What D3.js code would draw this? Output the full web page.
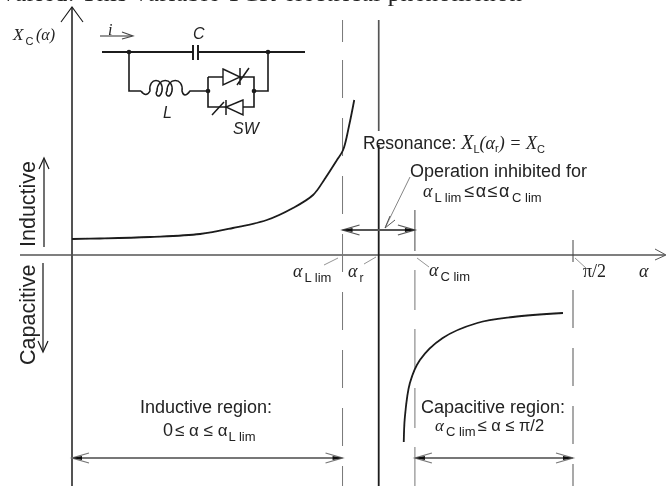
<!DOCTYPE html>
<meta charset="utf-8">
<style>
  body { margin: 0; background: #fff; }
  svg { width: 667px; height: 486px; display: block; }
  text { font-family: "Liberation Sans", sans-serif; fill: #222; }
  .it { font-family: "Liberation Serif", serif; font-style: italic; }
</style>
<body>
<svg></svg>
<script src="https://d3js.org/d3.v7.min.js"></script>
<script>
// alpha in degrees, X_C in arbitrary units, both
const inductiveAlpha = [0, 5, 14, 23, 28.9, 35, 39.7, 43.3, 45.4, 47.6, 48.7, 49.8, 50.7];
const inductiveX = [0.16, 0.165, 0.18, 0.21, 0.27, 0.35, 0.47, 0.6, 0.76, 0.95, 1.05, 1.3, 1.55];
const capacitiveAlpha = [59.6, 59.8, 60.7, 62.5, 66.6, 72.8, 79.2, 88.2];
const capacitiveX = [-1.87, -1.62, -1.28, -1.05, -0.83, -0.68, -0.62, -0.58];
const alphaLlim = 48.6;
const alphaR = 55.1;
const alphaClim = 61.6;
const alphaEnd = 90;

const width = 667, height = 486;
const svg = d3.select("svg").attr("viewBox", [0, 0, width, height]);

const x = d3.scaleLinear().domain([0, alphaEnd]).range([72, 573]);
const y = d3.scaleLinear().domain([2.55, -2.31]).range([0, 486]);

svg.append("defs").append("filter").attr("id", "soft")
  .append("feGaussianBlur").attr("stdDeviation", 0.5);

const g = svg.append("g").attr("filter", "url(#soft)");
const ink = "#1a1a1a";

function seg(x1, y1, x2, y2, w = 1.2, col = ink, dash = null) {
  return g.append("line").attr("x1", x1).attr("y1", y1).attr("x2", x2).attr("y2", y2)
    .attr("stroke", col).attr("stroke-width", w).attr("stroke-dasharray", dash);
}
function poly(d, w = 1.2, col = ink) {
  return g.append("path").attr("d", d).attr("fill", "none").attr("stroke", col).attr("stroke-width", w);
}
function label(tx, ty, str, size = 18) {
  return g.append("text").attr("x", tx).attr("y", ty).attr("font-size", size).text(str);
}
// alpha (or other symbol) with a small subscript
function sym(tx, ty, main, sub, size = 18, subSize = 12) {
  const t = g.append("text").attr("x", tx).attr("y", ty).attr("font-size", size);
  t.append("tspan").attr("class", "it").text(main);
  t.append("tspan").attr("dx", 2).attr("dy", 5).attr("font-size", subSize).text(sub);
  return t;
}
function arrowEnds(xa, xb, yy, col = "#777") {
  seg(xa, yy, xb, yy, 1.8, col);
  poly(`M${xa + 17},${yy - 5} L${xa},${yy} L${xa + 17},${yy + 5}`, 1.3, col);
  poly(`M${xb - 17},${yy - 5} L${xb},${yy} L${xb - 17},${yy + 5}`, 1.3, col);
  g.append("path").attr("d", `M${xa},${yy} l10,-2 v4 z`).attr("fill", "#111");
  g.append("path").attr("d", `M${xb},${yy} l-10,-2 v4 z`).attr("fill", "#111");
}

// line of running text cropped by the top edge
label(2, 1, "varied. This variable TCR electrical phenomenon", 25)
  .style("font-family", "'Liberation Serif'")
  .attr("textLength", 520);

// axes
seg(x(0), 8, x(0), height, 1.5);
poly(`M${x(0) - 11},22 L${x(0)},7 L${x(0) + 11},22`, 1.1);
seg(20, y(0), 665, y(0), 1.6, "#555");
poly(`M655,${y(0) - 6} L666,${y(0)} L655,${y(0) + 5}`, 1, "#555");

// resonance line, broken where the label crosses it
seg(x(alphaR), 20, x(alphaR), 131, 1.7, "#555");
seg(x(alphaR), 145, x(alphaR), height, 1.8);

// limit lines
seg(x(alphaLlim), 20, x(alphaLlim), 42, 1, "#777");
seg(x(alphaLlim), 60, x(alphaLlim), height, 1, "#777", "38 20");
seg(x(alphaClim), 210, x(alphaClim), 251, 1, "#444");
seg(x(alphaClim), 270, x(alphaClim), height, 1, "#777", "40 19");
seg(x(alphaEnd), 240, x(alphaEnd), 262, 1, "#444");
seg(x(alphaEnd), 290, x(alphaEnd), height, 1, "#555", "38 20");

// the two reactance curves
const curve = d3.line().x(d => x(d[0])).y(d => y(d[1])).curve(d3.curveCatmullRom);
g.append("path").attr("d", curve(d3.zip(inductiveAlpha, inductiveX)))
  .attr("fill", "none").attr("stroke", ink).attr("stroke-width", 1.8);
g.append("path").attr("d", curve(d3.zip(capacitiveAlpha, capacitiveX)))
  .attr("fill", "none").attr("stroke", ink).attr("stroke-width", 1.8);

// axis title and direction labels
sym(13, 40, "X", "C", 17, 11);
label(36, 40, "(α)", 16).attr("class", "it");
label(35, 247, "Inductive", 21.5).attr("transform", "rotate(-90 35 247)");
label(35, 365, "Capacitive", 21.5).attr("transform", "rotate(-90 35 365)");
seg(44, 247, 44, 160, 1.2);
poly("M39,169 L44,158 L49,169", 1.2);
seg(43, 263, 43, 350, 1.2);
poly("M38,341 L43,352 L48,341", 1.2);

// tick labels under the axis
sym(293, 277, "α", "L lim", 18, 13);
sym(348, 277, "α", "r", 18, 12);
sym(429, 276, "α", "C lim", 18, 13);
label(583, 277, "π/2", 18).style("font-family", "'Liberation Serif'");
label(639, 277, "α", 18).attr("class", "it");
poly("M324,265 L338,258", 0.9, "#888");
poly("M364,264 L376,257", 0.9, "#888");
poly("M429,267 L417,258", 0.9, "#888");
poly("M587,269 L575,258", 0.9, "#888");

// resonance annotation
const res = label(363, 149, "Resonance: ", 17.5);
res.append("tspan").attr("class", "it").attr("font-size", 20).text("X");
res.append("tspan").attr("dy", 4).attr("font-size", 11).text("L");
res.append("tspan").attr("dy", -4).attr("class", "it").attr("font-size", 18).text("(α");
res.append("tspan").attr("dy", 3).attr("font-size", 11).text("r");
res.append("tspan").attr("dy", -3).attr("class", "it").attr("font-size", 18).text(") = X");
res.append("tspan").attr("dy", 4).attr("font-size", 11).text("C");

label(410, 177, "Operation inhibited for", 18);
const inh = sym(423, 197, "α", "L lim", 18, 13);
inh.append("tspan").attr("dx", 3).attr("dy", -5).attr("font-size", 18).attr("letter-spacing", 1.5).text("≤α≤α");
inh.append("tspan").attr("dx", 1).attr("dy", 5).attr("font-size", 13).text("C lim");
poly("M410,177 L386,226", 0.9, "#777");
poly("M390,216 L385,228 L395,220", 0.9, "#444");
arrowEnds(x(alphaLlim), x(alphaClim), 230, "#555");

// region labels
label(140, 413, "Inductive region:", 18);
const ind = label(163, 436, "0", 18);
ind.append("tspan").attr("dx", 2).attr("font-size", 17).text("≤ α ≤ α");
ind.append("tspan").attr("dx", 1).attr("dy", 5).attr("font-size", 13).text("L lim");
arrowEnds(x(0), x(alphaLlim), 458);

label(421, 413, "Capacitive region:", 18);
const cap = sym(435, 431, "α", "C lim", 17, 13);
cap.append("tspan").attr("dx", 2).attr("dy", -5).attr("font-size", 16.5).text("≤ α ≤ π/2");
arrowEnds(x(alphaClim), x(alphaEnd), 458);

// TCR circuit inset
label(108, 35, "i", 16).attr("class", "it");
seg(100, 36, 132, 36, 1.4, "#666");
poly("M122,32 L133,36 L122,39", 1.1, "#444");
label(193, 39, "C", 16).style("font-style", "italic");
poly("M102,52 H193 M199,52 H305", 1.8);
poly("M193,45 V60 M198,45 V60", 1.9);
poly("M129,52 V91 H141", 1.6);
// inductor, three turns
poly("M141,91 q5,7 9,0 c-2,-14 14,-14 12,0 c-2,9 -8,4 -5,0 c0,-14 17,-14 15,0 c-2,9 -8,4 -5,0 c0,-14 17,-14 15,0 q2,8 8,0 H208", 1.5);
poly("M208,77 V107 H228 M208,77 H223 M240,77 H254 V107 H243 M254,91 H268 V52", 1.6);
g.append("path").attr("d", "M223,69 L240,77 L223,85 Z M243,100 L226,107 L243,115 Z")
  .attr("fill", "none").attr("stroke", ink).attr("stroke-width", 1.4);
poly("M240,68 V85 M237,85 L249,68 M226,100 V115 M212,115 L224,102", 1.5);
[[129, 52], [268, 52], [208, 91], [254, 91]].forEach(p => {
  g.append("circle").attr("cx", p[0]).attr("cy", p[1]).attr("r", 2.3).attr("fill", ink);
});
label(163, 118, "L", 16).style("font-style", "italic");
label(233, 134, "SW", 16).style("font-style", "italic");
</script>
</body>
